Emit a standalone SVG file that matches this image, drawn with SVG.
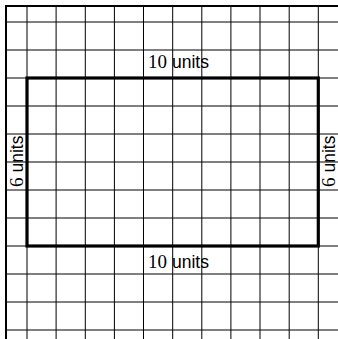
<svg xmlns="http://www.w3.org/2000/svg" width="338" height="339" viewBox="0 0 338 339">
<style>
.g{stroke:#000;stroke-width:1;fill:none}
.b{stroke:#000;stroke-width:2;fill:none}
.r{stroke:#000;stroke-width:3.2;fill:none}
.s{font-family:"Liberation Serif","DejaVu Serif",serif;font-size:19px;fill:#000}
.a{font-family:"Liberation Sans",Arial,sans-serif;font-size:17.5px;fill:#000}
</style>
<rect width="338" height="339" fill="#fff"/>
<g id="grid">
<path class="g" d="M56.1 6V339M85.3 6V339M114.4 6V339M143.5 6V339M172.7 6V339M201.8 6V339M230.9 6V339M260 6V339M289.2 6V339M27 6V339M318.3 6V339"/>
<path class="g" d="M6 22H338M6 50H338M6 78H338M6 106H338M6 134H338M6 162H338M6 190H338M6 218H338M6 246H338M6 274H338M6 302H338M6 330H338"/>
<path class="b" d="M6 339V6H338"/>
</g>
<g id="rectangle">
<rect class="r" x="27" y="78" width="291.3" height="168"/>
</g>
<g id="labels">
<text x="148" y="68"><tspan class="s">10</tspan><tspan class="a" dx="5">units</tspan></text>
<text x="148" y="268"><tspan class="s">10</tspan><tspan class="a" dx="5">units</tspan></text>
<text transform="translate(23,187) rotate(-90)"><tspan class="s">6</tspan><tspan class="a" dx="5">units</tspan></text>
<text transform="translate(335,187) rotate(-90)"><tspan class="s">6</tspan><tspan class="a" dx="5">units</tspan></text>
</g>
</svg>
